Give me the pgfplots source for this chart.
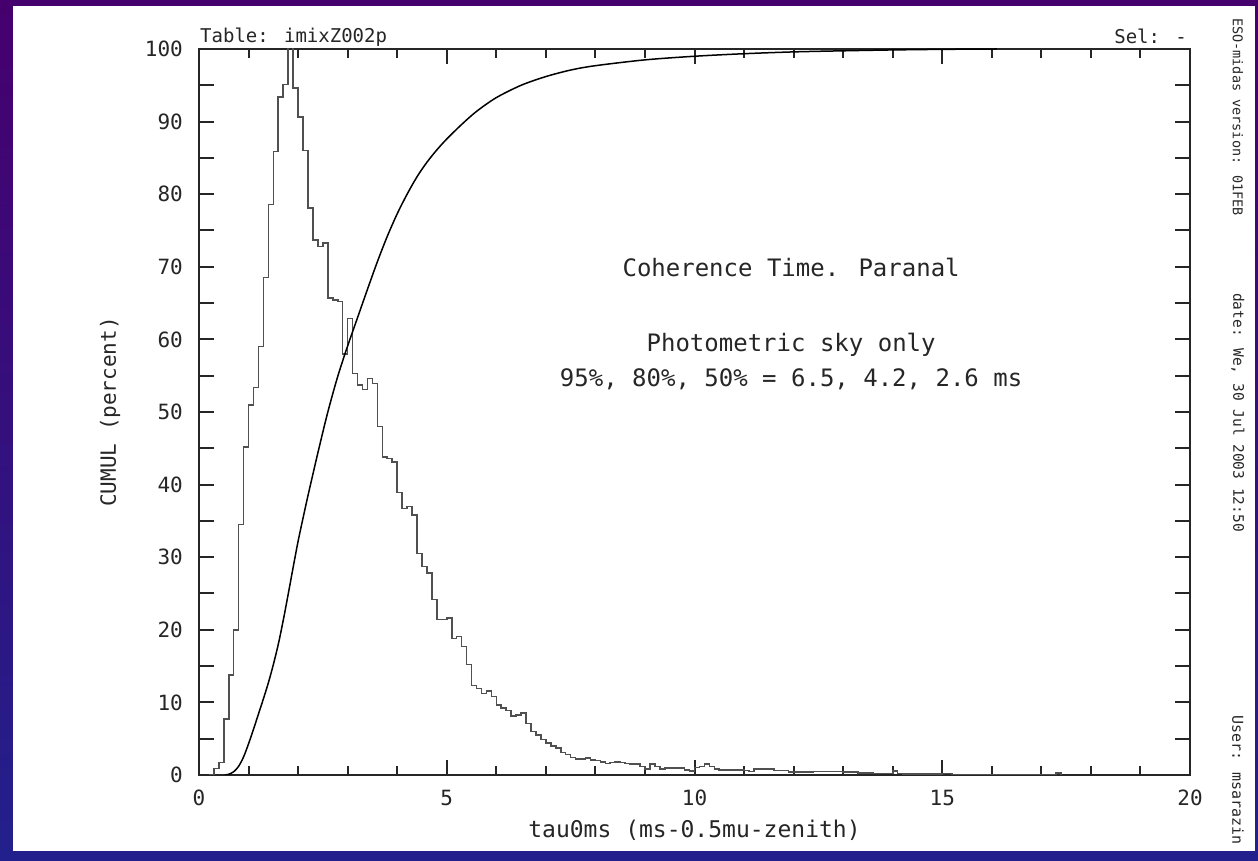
\documentclass[border=0pt]{standalone}
\usepackage{fontspec}
\setmainfont{DejaVu Sans Mono}
\usepackage{pgfplots}
\pgfplotsset{compat=1.18}
\definecolor{txt}{HTML}{262626}
\definecolor{histc}{HTML}{505050}
\definecolor{bordtop}{HTML}{46006E}
\definecolor{bordbot}{HTML}{22208C}
\begin{document}
\begin{tikzpicture}
\shade[top color=bordtop,bottom color=bordbot] (0pt,0pt) rectangle (1258pt,861pt);
\fill[white] (13pt,10pt) rectangle (1255pt,855pt);
\begin{axis}[
  at={(199pt,86pt)}, anchor=south west,
  scale only axis, width=991pt, height=726pt,
  xmin=0, xmax=20, ymin=0, ymax=100,
  xtick={0,5,10,15,20}, xticklabels={0,5,10,15,20},
  minor x tick num=4,
  ytick={0,5,...,100},
  yticklabels={0,,10,,20,,30,,40,,50,,60,,70,,80,,90,,100},
  tick align=inside,
  major tick length=15pt, minor tick length=9pt,
  xtick pos=both, ytick pos=both,
  axis line style={line width=2pt, black!85},
  every tick/.style={line width=2pt, black!85},
  /pgf/number format/assume math mode=true,
  tick label style={font=\fontsize{21}{21}\selectfont, text=txt},
  yticklabel style={inner sep=0pt, xshift=-16pt},
  xticklabel style={inner sep=0pt, yshift=-15pt},
  xlabel={tau0ms (ms-0.5mu-zenith)},
  ylabel={CUMUL (percent)},
  xlabel style={at={(axis description cs:0.5,-0.0758)}, anchor=center, font=\fontsize{23}{23}\selectfont, text=txt},
  ylabel style={at={(axis description cs:-0.0898,0.5)}, anchor=center, font=\fontsize{21}{21}\selectfont, text=txt},
  clip=true,
]
\addplot[const plot mark left, histc, line width=1.6pt] coordinates {
(0.2,0)(0.3,0.9)(0.4,1.7)(0.5,7.7)(0.6,13.8)(0.7,20.0)(0.8,34.5)(0.9,45.2)(1.0,51.0)(1.1,53.4)(1.2,59.0)(1.3,68.5)(1.4,78.6)(1.5,85.9)(1.6,93.4)(1.7,95.1)(1.8,100.5)(1.9,94.6)(2.0,90.6)(2.1,86.0)(2.2,78.1)(2.3,73.7)(2.4,72.8)(2.5,73.3)(2.6,65.7)(2.7,65.4)(2.8,65.2)(2.9,58.0)(3.0,62.9)(3.1,55.3)(3.2,53.7)(3.3,53.1)(3.4,54.6)(3.5,53.9)(3.6,48.0)(3.7,43.8)(3.8,43.6)(3.9,43.1)(4.0,38.9)(4.1,36.7)(4.2,37.0)(4.3,35.8)(4.4,30.5)(4.5,28.7)(4.6,27.8)(4.7,24.2)(4.8,21.4)(4.9,21.4)(5.0,21.6)(5.1,18.8)(5.2,19.1)(5.3,17.7)(5.4,15.2)(5.5,12.3)(5.6,11.9)(5.7,11.2)(5.8,11.6)(5.9,10.8)(6.0,9.6)(6.1,9.2)(6.2,8.9)(6.3,8.1)(6.4,8.3)(6.5,8.5)(6.6,7.1)(6.7,6.0)(6.8,5.5)(6.9,4.9)(7.0,4.4)(7.1,4.0)(7.2,3.7)(7.3,3.1)(7.4,2.8)(7.5,2.4)(7.6,2.2)(7.7,2.2)(7.8,2.3)(7.9,2.1)(8.0,2.0)(8.1,1.8)(8.2,1.6)(8.3,1.7)(8.4,1.8)(8.5,1.7)(8.6,1.6)(8.7,1.5)(8.8,1.5)(8.9,1.15)(9.0,0.8)(9.1,1.5)(9.2,1.15)(9.3,0.8)(9.4,1.0)(9.8,0.7)(9.9,0.55)(10.0,1.05)(10.1,1.15)(10.2,1.5)(10.3,1.15)(10.4,0.8)(10.5,0.7)(11.0,0.6)(11.1,0.46)(11.2,0.8)(11.6,0.6)(11.9,0.4)(12.4,0.5)(13.0,0.4)(13.3,0.25)(13.6,0.2)(14.0,0.55)(14.1,0.2)(14.2,0.1)(15.0,0.2)(15.2,0)(17.3,0.3)(17.4,0)
};
\addplot[black, line width=1.5pt, smooth, tension=0.5] coordinates {
(0.52,0)(0.60,0.1)(0.70,0.45)(0.80,1.2)(0.90,2.5)(1.00,4.3)(1.10,6.3)(1.20,8.4)(1.30,10.5)(1.40,12.7)(1.50,15.2)(1.60,18.0)(1.70,21.3)(1.80,24.9)(1.90,28.6)(2.00,32.2)(2.10,35.4)(2.20,38.5)(2.40,44.4)(2.60,50.0)(2.80,54.9)(3.00,59.1)(3.20,63.0)(3.40,66.9)(3.60,70.7)(3.80,74.2)(4.00,77.3)(4.20,80.0)(4.40,82.4)(4.60,84.4)(4.80,86.1)(5.00,87.6)(5.30,89.6)(5.60,91.4)(6.00,93.3)(6.50,95.0)(7.00,96.2)(7.50,97.1)(8.00,97.7)(9.00,98.5)(10.0,99.0)(11.0,99.35)(12.0,99.6)(13.0,99.75)(14.0,99.87)(15.0,99.95)(16.1,100)
};
\node[anchor=base, font=\fontsize{24}{24}\selectfont, text=txt] at (axis cs:11.95,68.7) {Coherence Time. Paranal};
\node[anchor=base, font=\fontsize{24}{24}\selectfont, text=txt] at (axis cs:11.95,58.3) {Photometric sky only};
\node[anchor=base, font=\fontsize{24}{24}\selectfont, text=txt] at (axis cs:11.95,53.5) {95\%, 80\%, 50\% = 6.5, 4.2, 2.6 ms};
\end{axis}
\node[anchor=base west, inner sep=0pt, font=\fontsize{19}{19}\selectfont, text=txt] at (200pt,818pt) {Table: imixZ002p};
\node[anchor=base east, inner sep=0pt, font=\fontsize{19}{19}\selectfont, text=txt] at (1187pt,817pt) {Sel: -};
\node[rotate=-90, anchor=west, inner sep=0pt, font=\fontsize{13.5}{13.5}\selectfont, text=txt] at (1238pt,843pt) {ESO-midas version: 01FEB};
\node[rotate=-90, anchor=west, inner sep=0pt, font=\fontsize{14.5}{14.5}\selectfont, text=txt] at (1238pt,568pt) {date: We, 30 Jul 2003 12:50};
\node[rotate=-90, anchor=west, inner sep=0pt, font=\fontsize{15}{15}\selectfont, text=txt] at (1238pt,146pt) {User: msarazin};
\end{tikzpicture}
\end{document}
